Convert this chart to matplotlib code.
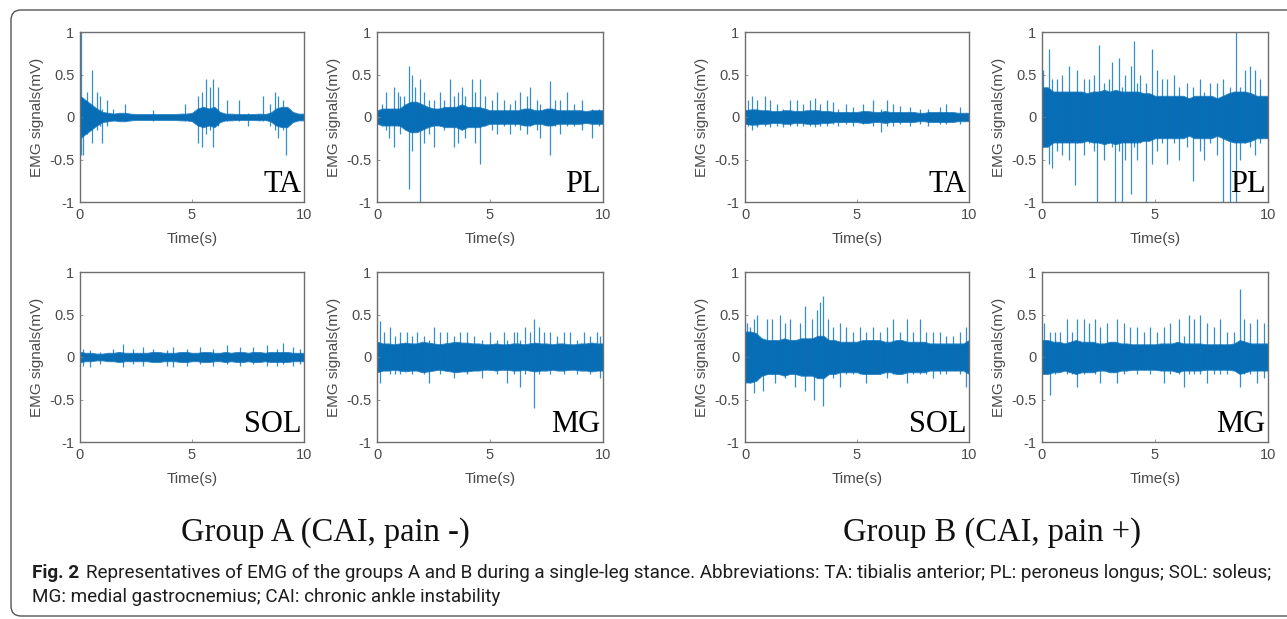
import numpy as np
import matplotlib
matplotlib.use('Agg')
import matplotlib.pyplot as plt
from matplotlib.patches import FancyBboxPatch
from matplotlib.transforms import IdentityTransform

# ---- data (band half-width every 0.25 s + visible spikes) ----
a_ta_env = [0.25, 0.2, 0.15, 0.1, 0.06, 0.05, 0.04, 0.05, 0.05, 0.04, 0.035, 0.035, 0.035, 0.035,
            0.035, 0.035, 0.035, 0.035, 0.04, 0.04, 0.05, 0.1, 0.12, 0.1, 0.12, 0.06, 0.04, 0.04,
            0.035, 0.035, 0.035, 0.035, 0.04, 0.035, 0.05, 0.1, 0.12, 0.12, 0.06, 0.04, 0.04]
a_ta_t = [0.04, 0.12, 0.33, 0.52, 0.74, 0.89, 0.98, 1.19, 1.49, 2.01, 3.27, 4.69, 5.28, 5.43,
          5.62, 5.80, 5.95, 6.18, 6.55, 7.11, 7.51, 8.15, 8.48, 8.71, 8.85, 9.05, 9.18, 9.38]
a_ta_hi = [1.0, 0.2, 0.3, 0.55, 0.3, 0.25, 0.1, 0.2, 0.1, 0.15, 0.08, 0.15, 0.25, 0.3,
           0.45, 0.35, 0.45, 0.35, 0.2, 0.2, 0.05, 0.25, 0.15, 0.3, 0.25, 0.2, 0.1, 0.1]
a_ta_lo = [-0.45, -0.45, -0.2, -0.3, -0.15, -0.1, -0.3, -0.1, -0.05, -0.05, -0.05, -0.05, -0.3, -0.35,
           -0.2, -0.15, -0.35, -0.1, -0.05, -0.05, -0.1, -0.05, -0.1, -0.15, -0.25, -0.15, -0.45, -0.05]

a_pl_env = [0.08, 0.1, 0.1, 0.1, 0.1, 0.15, 0.18, 0.18, 0.15, 0.12, 0.1, 0.1, 0.12, 0.12, 0.12,
            0.15, 0.12, 0.12, 0.12, 0.1, 0.08, 0.08, 0.08, 0.08, 0.08, 0.08, 0.1, 0.1, 0.08, 0.08,
            0.1, 0.1, 0.08, 0.08, 0.08, 0.08, 0.08, 0.07, 0.08, 0.08, 0.08]
a_pl_t = [0.22, 0.41, 0.52, 0.74, 0.91, 1.03, 1.21, 1.40, 1.55, 1.70, 1.89, 2.06, 2.29, 2.51,
          2.77, 2.95, 3.22, 3.39, 3.57, 3.76, 3.91, 4.20, 4.35, 4.57, 4.79, 5.09, 5.31, 5.60,
          5.90, 6.12, 6.34, 6.64, 6.78, 7.08, 7.23, 7.67, 7.89, 8.11, 8.41, 8.70, 9.07, 9.51, 9.81]
a_pl_hi = [0.15, 0.3, 0.1, 0.35, 0.3, 0.25, 0.25, 0.6, 0.5, 0.35, 0.45, 0.3, 0.2, 0.2,
           0.3, 0.2, 0.45, 0.25, 0.3, 0.35, 0.25, 0.45, 0.3, 0.45, 0.25, 0.2, 0.3, 0.2,
           0.15, 0.2, 0.3, 0.25, 0.35, 0.2, 0.15, 0.42, 0.2, 0.2, 0.3, 0.15, 0.2, 0.1, 0.1]
a_pl_lo = [-0.1, -0.15, -0.25, -0.35, -0.1, -0.2, -0.1, -0.85, -0.4, -0.15, -1.0, -0.3, -0.2, -0.35,
           -0.1, -0.15, -0.1, -0.35, -0.3, -0.15, -0.25, -0.1, -0.3, -0.55, -0.1, -0.15, -0.2, -0.1,
           -0.2, -0.1, -0.15, -0.2, -0.1, -0.15, -0.25, -0.45, -0.1, -0.2, -0.1, -0.1, -0.15, -0.25, -0.1]

a_sol_env = [0.06, 0.05, 0.05, 0.04, 0.04, 0.05, 0.05, 0.06, 0.05, 0.05, 0.05, 0.05, 0.05, 0.06,
             0.06, 0.05, 0.05, 0.05, 0.06, 0.06, 0.05, 0.05, 0.06, 0.06, 0.05, 0.05, 0.06, 0.05,
             0.06, 0.06, 0.05, 0.06, 0.06, 0.05, 0.06, 0.06, 0.06, 0.06, 0.05, 0.05, 0.05]
a_sol_t = [0.15, 0.45, 0.89, 1.49, 1.90, 2.38, 2.83, 3.27, 3.87, 4.17, 4.76, 5.36, 5.95, 6.55,
           7.14, 7.74, 8.33, 8.78, 9.08, 9.52, 9.82]
a_sol_hi = [0.1, 0.08, 0.06, 0.1, 0.15, 0.1, 0.12, 0.1, 0.08, 0.12, 0.1, 0.12, 0.1, 0.14,
            0.12, 0.12, 0.14, 0.1, 0.16, 0.12, 0.1]
a_sol_lo = [-0.1, -0.12, -0.08, -0.05, -0.12, -0.08, -0.1, -0.05, -0.1, -0.12, -0.1, -0.08, -0.1, -0.08,
            -0.1, -0.08, -0.1, -0.1, -0.08, -0.1, -0.08]

a_mg_env = [0.18, 0.16, 0.16, 0.15, 0.16, 0.17, 0.16, 0.16, 0.18, 0.17, 0.16, 0.15, 0.16, 0.17,
            0.18, 0.17, 0.17, 0.16, 0.16, 0.15, 0.15, 0.16, 0.15, 0.15, 0.16, 0.16, 0.15, 0.16,
            0.17, 0.16, 0.16, 0.15, 0.16, 0.16, 0.15, 0.15, 0.16, 0.16, 0.17, 0.16, 0.16]
a_mg_t = [0.12, 0.29, 0.56, 0.81, 1.03, 1.33, 1.55, 1.77, 2.06, 2.29, 2.51, 2.80, 3.10, 3.39,
          3.69, 3.98, 4.28, 4.65, 5.01, 5.31, 5.60, 5.75, 6.05, 6.19, 6.34, 6.56, 6.78, 6.96,
          7.15, 7.37, 7.67, 7.96, 8.26, 8.55, 8.85, 9.14, 9.44, 9.73, 9.88]
a_mg_hi = [0.42, 0.3, 0.35, 0.25, 0.3, 0.3, 0.25, 0.3, 0.25, 0.2, 0.35, 0.3, 0.3, 0.25,
           0.3, 0.3, 0.25, 0.2, 0.3, 0.2, 0.3, 0.2, 0.3, 0.3, 0.2, 0.35, 0.3, 0.45,
           0.35, 0.3, 0.3, 0.25, 0.3, 0.3, 0.2, 0.3, 0.25, 0.3, 0.25]
a_mg_lo = [-0.3, -0.15, -0.2, -0.2, -0.2, -0.15, -0.2, -0.15, -0.2, -0.3, -0.15, -0.2, -0.15, -0.25,
           -0.15, -0.2, -0.15, -0.25, -0.15, -0.2, -0.15, -0.3, -0.2, -0.15, -0.35, -0.2, -0.15, -0.6,
           -0.2, -0.15, -0.2, -0.15, -0.2, -0.15, -0.2, -0.15, -0.2, -0.15, -0.25]

b_ta_env = [0.08, 0.09, 0.09, 0.08, 0.08, 0.07, 0.07, 0.08, 0.08, 0.07, 0.07, 0.08, 0.08, 0.08,
            0.07, 0.07, 0.06, 0.06, 0.06, 0.06, 0.06, 0.07, 0.07, 0.06, 0.06, 0.07, 0.06, 0.06,
            0.06, 0.06, 0.06, 0.05, 0.05, 0.06, 0.06, 0.06, 0.06, 0.06, 0.05, 0.05, 0.05]
b_ta_t = [0.15, 0.30, 0.52, 0.89, 1.11, 1.41, 1.71, 2.01, 2.30, 2.60, 2.90, 3.12, 3.34, 3.64,
          3.94, 4.16, 4.53, 4.83, 5.27, 5.72, 6.09, 6.32, 6.61, 6.91, 7.36, 7.80, 8.17, 8.69,
          8.99, 9.58]
b_ta_hi = [0.2, 0.25, 0.2, 0.25, 0.2, 0.15, 0.1, 0.2, 0.2, 0.15, 0.2, 0.22, 0.15, 0.2,
           0.18, 0.1, 0.15, 0.12, 0.15, 0.2, 0.1, 0.2, 0.15, 0.13, 0.12, 0.1, 0.1, 0.12,
           0.15, 0.12]
b_ta_lo = [-0.1, -0.15, -0.12, -0.1, -0.12, -0.1, -0.12, -0.1, -0.1, -0.1, -0.1, -0.12, -0.1, -0.1,
           -0.08, -0.1, -0.08, -0.1, -0.08, -0.1, -0.18, -0.1, -0.1, -0.08, -0.1, -0.08, -0.1, -0.08,
           -0.08, -0.08]

b_pl_env = [0.35, 0.35, 0.3, 0.3, 0.3, 0.3, 0.3, 0.3, 0.28, 0.3, 0.3, 0.32, 0.3, 0.32, 0.3,
            0.3, 0.3, 0.3, 0.28, 0.28, 0.25, 0.25, 0.25, 0.25, 0.25, 0.25, 0.22, 0.25, 0.25,
            0.25, 0.25, 0.22, 0.25, 0.28, 0.3, 0.3, 0.3, 0.28, 0.25, 0.25, 0.25]
b_pl_t = [0.04, 0.29, 0.44, 0.66, 0.88, 1.18, 1.47, 1.55, 1.84, 2.06, 2.29, 2.43, 2.51, 2.73,
          2.95, 3.10, 3.24, 3.39, 3.54, 3.69, 3.94, 4.06, 4.20, 4.35, 4.60, 4.87, 5.09, 5.31,
          5.53, 5.83, 6.05, 6.42, 6.68, 7.01, 7.15, 7.45, 7.74, 8.01, 8.30, 8.58, 8.78, 9.00,
          9.22, 9.44, 9.66, 9.96]
b_pl_hi = [0.55, 0.8, 0.45, 0.45, 0.5, 0.6, 0.3, 0.55, 0.45, 0.45, 0.5, 0.3, 0.85, 0.4,
           0.45, 0.65, 0.3, 0.7, 0.35, 0.5, 0.6, 0.9, 0.4, 0.5, 0.4, 0.8, 0.55, 0.45,
           0.45, 0.5, 0.35, 0.4, 0.35, 0.45, 0.3, 0.4, 0.4, 0.45, 0.35, 1.0, 0.35, 0.55,
           0.6, 0.55, 0.45, 0.2]
b_pl_lo = [-0.35, -0.55, -0.6, -0.4, -0.45, -0.5, -0.8, -0.3, -0.45, -0.3, -0.4, -1.0, -0.3, -0.5,
           -0.3, -0.35, -1.0, -0.4, -1.0, -0.5, -0.9, -0.35, -0.5, -0.3, -1.0, -0.55, -0.4, -0.3,
           -0.55, -0.3, -0.5, -0.35, -0.75, -0.4, -0.5, -0.3, -0.45, -1.0, -1.0, -1.0, -0.5, -0.3,
           -0.35, -0.45, -0.3, -0.2]

b_sol_env = [0.3, 0.3, 0.28, 0.22, 0.2, 0.2, 0.2, 0.22, 0.2, 0.2, 0.22, 0.22, 0.22, 0.25, 0.25,
             0.2, 0.2, 0.18, 0.18, 0.18, 0.18, 0.2, 0.2, 0.2, 0.2, 0.18, 0.18, 0.2, 0.2, 0.18,
             0.18, 0.18, 0.18, 0.16, 0.16, 0.16, 0.16, 0.16, 0.16, 0.16, 0.2]
b_sol_t = [0.07, 0.22, 0.40, 0.52, 0.79, 0.97, 1.19, 1.34, 1.56, 1.78, 2.01, 2.23, 2.45, 2.67,
           2.97, 3.08, 3.22, 3.34, 3.49, 3.71, 3.94, 4.23, 4.53, 4.83, 5.13, 5.42, 5.72, 6.02,
           6.32, 6.61, 6.91, 7.21, 7.50, 7.80, 8.10, 8.40, 8.69, 8.99, 9.29, 9.58, 9.88]
b_sol_hi = [0.4, 0.35, 0.45, 0.5, 0.2, 0.45, 0.45, 0.2, 0.5, 0.4, 0.45, 0.2, 0.4, 0.6,
            0.45, 0.2, 0.55, 0.65, 0.72, 0.45, 0.35, 0.4, 0.35, 0.3, 0.35, 0.3, 0.35, 0.3,
            0.35, 0.45, 0.3, 0.45, 0.3, 0.45, 0.3, 0.3, 0.3, 0.25, 0.25, 0.3, 0.35]
b_sol_lo = [-0.2, -0.3, -0.42, -0.2, -0.4, -0.2, -0.2, -0.3, -0.2, -0.25, -0.2, -0.35, -0.2, -0.4,
            -0.2, -0.5, -0.25, -0.2, -0.58, -0.2, -0.25, -0.35, -0.2, -0.2, -0.2, -0.3, -0.2, -0.2,
            -0.25, -0.2, -0.2, -0.3, -0.2, -0.2, -0.2, -0.25, -0.2, -0.2, -0.15, -0.2, -0.35]

b_mg_env = [0.2, 0.2, 0.18, 0.18, 0.16, 0.18, 0.2, 0.18, 0.18, 0.18, 0.16, 0.16, 0.18, 0.18,
            0.16, 0.16, 0.15, 0.15, 0.15, 0.15, 0.15, 0.16, 0.16, 0.16, 0.18, 0.16, 0.16, 0.16,
            0.16, 0.15, 0.15, 0.15, 0.15, 0.15, 0.16, 0.2, 0.18, 0.16, 0.16, 0.16, 0.16]
b_mg_t = [0.07, 0.37, 0.59, 0.81, 1.11, 1.33, 1.55, 1.84, 2.06, 2.36, 2.58, 2.88, 3.32, 3.61,
          3.91, 4.20, 4.50, 4.79, 5.09, 5.38, 5.68, 6.05, 6.27, 6.49, 6.71, 7.01, 7.30, 7.60,
          7.89, 8.19, 8.48, 8.75, 8.92, 9.22, 9.51, 9.81]
b_mg_hi = [0.4, 0.3, 0.3, 0.3, 0.45, 0.3, 0.45, 0.45, 0.4, 0.45, 0.35, 0.4, 0.45, 0.4,
           0.35, 0.35, 0.3, 0.35, 0.3, 0.35, 0.4, 0.45, 0.25, 0.5, 0.45, 0.5, 0.4, 0.35,
           0.45, 0.3, 0.3, 0.8, 0.45, 0.4, 0.45, 0.4]
b_mg_lo = [-0.15, -0.45, -0.2, -0.15, -0.2, -0.2, -0.35, -0.2, -0.15, -0.2, -0.3, -0.15, -0.3, -0.2,
           -0.15, -0.2, -0.15, -0.2, -0.15, -0.3, -0.2, -0.2, -0.35, -0.2, -0.2, -0.2, -0.3, -0.2,
           -0.2, -0.2, -0.15, -0.35, -0.2, -0.2, -0.3, -0.25]

muscle_labels = ['TA', 'PL', 'SOL', 'MG']
group_titles = ['Group A (CAI, pain -)', 'Group B (CAI, pain +)']
y_ticks = [-1, -0.5, 0, 0.5, 1]
y_tick_labels = ['-1', '-0.5', '0', '0.5', '1']
x_ticks = [0, 5, 10]

panels = [
    (a_ta_env, a_ta_t, a_ta_hi, a_ta_lo), (a_pl_env, a_pl_t, a_pl_hi, a_pl_lo),
    (a_sol_env, a_sol_t, a_sol_hi, a_sol_lo), (a_mg_env, a_mg_t, a_mg_hi, a_mg_lo),
    (b_ta_env, b_ta_t, b_ta_hi, b_ta_lo), (b_pl_env, b_pl_t, b_pl_hi, b_pl_lo),
    (b_sol_env, b_sol_t, b_sol_hi, b_sol_lo), (b_mg_env, b_mg_t, b_mg_hi, b_mg_lo),
]

W, H = 1287, 619
blue = '#0072BD'
gray = '#4a4a4a'
sans = ['Liberation Sans', 'DejaVu Sans']

fig = plt.figure(figsize=(W / 100, H / 100), dpi=100)
fig.patch.set_facecolor('white')

# axes boxes in pixels: (left, right) and (top, bottom)
cols = [(80, 304), (377, 603), (745, 969), (1042, 1268)]
rows = [(32, 202), (272, 442)]

for i, (env, t, hi, lo) in enumerate(panels):
    g = i // 4
    k = i % 4
    r, c = k // 2, 2 * g + k % 2
    x0, x1 = cols[c]
    y0, y1 = rows[r]
    ax = fig.add_axes([x0 / W, 1 - y1 / H, (x1 - x0) / W, (y1 - y0) / H])

    env = np.array(env)
    te = np.linspace(0, 10, len(env))
    ax.fill_between(te, -env, env, color='#0a6db4', lw=0.6, edgecolor='#2a84c6')
    ax.vlines(t, lo, hi, color=blue, lw=0.9, alpha=0.8)

    ax.set_xlim(0, 10)
    ax.set_ylim(-1, 1)
    ax.set_xticks(x_ticks)
    ax.set_xticklabels([str(v) for v in x_ticks])
    ax.set_yticks(y_ticks)
    ax.set_yticklabels(y_tick_labels)
    ax.tick_params(direction='in', length=2, width=0.6, color='#888888', labelcolor=gray,
                   labelsize=10.5, pad=4)
    for lab in ax.get_xticklabels() + ax.get_yticklabels():
        lab.set_family(sans)
    for sp in ax.spines.values():
        sp.set_color('#6e6e6e')
        sp.set_linewidth(1.0)
    ax.set_ylabel('EMG signals(mV)', fontsize=11, color=gray, family=sans)
    ax.yaxis.set_label_coords(-0.16, 0.5)
    ax.set_xlabel('Time(s)', fontsize=11, color=gray, family=sans)
    ax.xaxis.set_label_coords(0.5, -0.175)
    ax.text(0.99, 0.015, muscle_labels[k], transform=ax.transAxes, ha='right', va='bottom',
            fontsize=22, family='Liberation Serif', color='black')

# group titles
for g, cx in enumerate([325, 992]):
    fig.text(cx / W, 1 - 533 / H, group_titles[g], ha='center', va='center',
             fontsize=23.5, family='Liberation Serif', color='#111111')

# caption, sized so the first line runs out to the right margin
cap_fam = ['Roboto', 'DejaVu Sans']
cap_left, cap_right = 32, 1282
cap_text1 = ('Representatives of EMG of the groups A and B during a single-leg stance. '
             'Abbreviations: TA: tibialis anterior; PL: peroneus longus; SOL: soleus;')
cap_text2 = 'MG: medial gastrocnemius; CAI: chronic ankle instability'
renderer = fig.canvas.get_renderer()


def draw_caption(size):
    lbl = fig.text(cap_left / W, 1 - 573 / H, 'Fig. 2', ha='left', va='center',
                   fontsize=size, weight='bold', family=cap_fam, color='#1e1e1e')
    bb = lbl.get_window_extent(renderer)
    txt = fig.text((bb.x1 + 7) / W, 1 - 573 / H, cap_text1, ha='left', va='center',
                   fontsize=size, family=cap_fam, color='#1e1e1e')
    return lbl, txt


size = 11
for _ in range(4):
    lbl, txt = draw_caption(size)
    right = txt.get_window_extent(renderer).x1
    lbl.remove()
    txt.remove()
    size *= (cap_right - cap_left) / (right - cap_left)
draw_caption(size)
fig.text(cap_left / W, 1 - 597 / H, cap_text2, ha='left', va='center',
         fontsize=size, family=cap_fam, color='#1e1e1e')

# rounded frame (left and top edges visible)
frame = FancyBboxPatch((11, 3), 1320, 606, boxstyle='round,pad=0,rounding_size=10',
                       transform=IdentityTransform(), fill=False, edgecolor='#555555', lw=1.0)
fig.add_artist(frame)

fig.savefig('out.png', dpi=100)
